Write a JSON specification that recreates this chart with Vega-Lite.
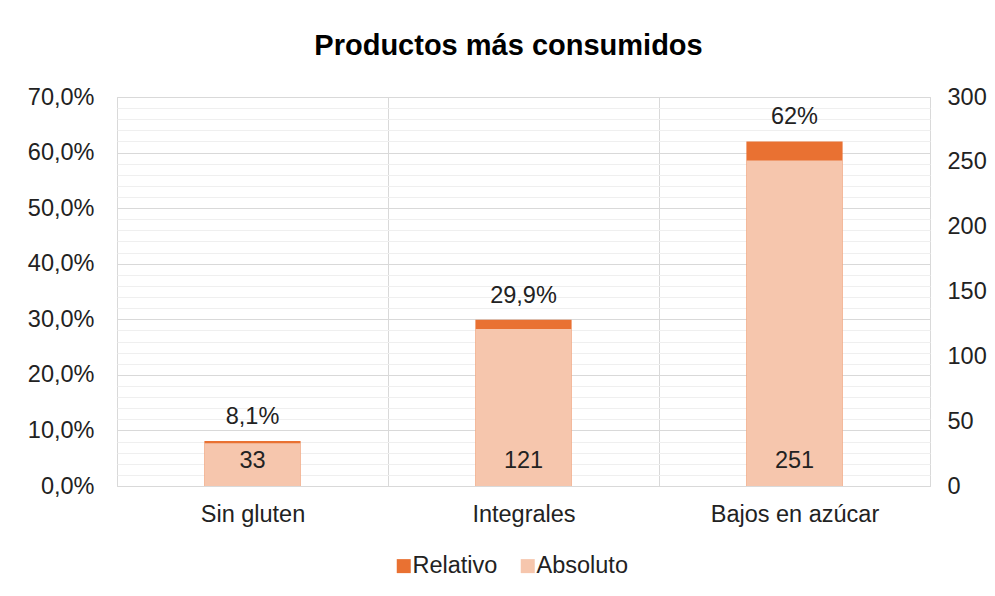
{
  "$schema": "https://vega.github.io/schema/vega-lite/v6.json",
  "width": 813,
  "height": 389,
  "autosize": {"type": "none"},
  "padding": {"left": 117, "top": 97, "right": 65, "bottom": 110},
  "background": "white",
  "title": {"text": "Productos más consumidos", "fontSize": 29, "font": "Liberation Sans", "fontWeight": "bold", "color": "#000000", "anchor": "middle", "offset": 24, "dx": -15},
  "config": {"font": "Liberation Sans", "view": {"stroke": "#d9d9d9"}},
  "data": {"values": [
    {"cat": "Sin gluten", "rel": 0.081, "abs": 33, "relLabel": "8,1%"},
    {"cat": "Integrales", "rel": 0.299, "abs": 121, "relLabel": "29,9%"},
    {"cat": "Bajos en azúcar", "rel": 0.62, "abs": 251, "relLabel": "62%"}
  ]},
  "encoding": {
    "x": {"field": "cat", "type": "nominal", "sort": null,
      "scale": {"paddingInner": 0, "paddingOuter": 0},
      "axis": {"title": null, "labelAngle": 0, "labelFontSize": 23.5, "labelColor": "#222222", "labelPadding": 16, "domain": false, "ticks": false, "grid": true, "gridColor": "#d9d9d9", "tickBand": "extent"}}
  },
  "layer": [
    {
      "encoding": {
        "y": {"field": "rel", "type": "quantitative", "scale": {"domain": [0, 0.7], "nice": false},
          "axis": {"orient": "left", "title": null,
            "values": [0, 0.02, 0.04, 0.06, 0.08, 0.1, 0.12, 0.14, 0.16, 0.18, 0.2, 0.22, 0.24, 0.26, 0.28, 0.3, 0.32, 0.34, 0.36, 0.38, 0.4, 0.42, 0.44, 0.46, 0.48, 0.5, 0.52, 0.54, 0.56, 0.58, 0.6, 0.62, 0.64, 0.66, 0.68, 0.7],
            "labelExpr": "round(datum.value*100) % 10 == 0 ? replace(format(datum.value, '.1%'), '.', ',') : ''",
            "labelFontSize": 23.5, "labelColor": "#222222", "labelPadding": 23,
            "domain": false, "ticks": false, "grid": true,
            "gridColor": {"condition": {"test": "round(datum.value*100) % 10 == 0", "value": "#d9d9d9"}, "value": "#efefef"},
            "labelOverlap": false}}
      },
      "layer": [
        {"mark": {"type": "bar", "width": {"band": 0.355}},
          "encoding": {"color": {"datum": "Relativo", "type": "nominal",
            "scale": {"domain": ["Relativo", "Absoluto"], "range": ["#E97132", "#F6C6AD"]},
            "legend": {"orient": "none", "legendX": 275, "legendY": 457, "direction": "horizontal", "title": null, "symbolType": "square", "symbolSize": 196, "symbolStrokeWidth": 0, "labelFontSize": 23.5, "labelColor": "#222222", "labelOffset": -3, "columnPadding": 18}}}},
        {"mark": {"type": "text", "baseline": "bottom", "dy": -12, "fontSize": 23.5, "color": "#222222"},
          "encoding": {"text": {"field": "relLabel"}}}
      ]
    },
    {
      "encoding": {
        "y": {"field": "abs", "type": "quantitative", "scale": {"domain": [0, 300], "nice": false},
          "axis": {"orient": "right", "title": null, "values": [0, 50, 100, 150, 200, 250, 300],
            "labelFontSize": 23.5, "labelColor": "#222222", "labelPadding": 17,
            "domain": false, "ticks": false, "grid": false}}
      },
      "layer": [
        {"mark": {"type": "bar", "width": {"band": 0.355}},
          "encoding": {"color": {"datum": "Absoluto", "type": "nominal"}}},
        {"mark": {"type": "text", "baseline": "middle", "dy": -25, "fontSize": 23.5, "color": "#222222"},
          "encoding": {"y": {"datum": 0, "type": "quantitative"}, "text": {"field": "abs", "type": "quantitative"}}}
      ]
    }
  ],
  "resolve": {"scale": {"y": "independent"}}
}
